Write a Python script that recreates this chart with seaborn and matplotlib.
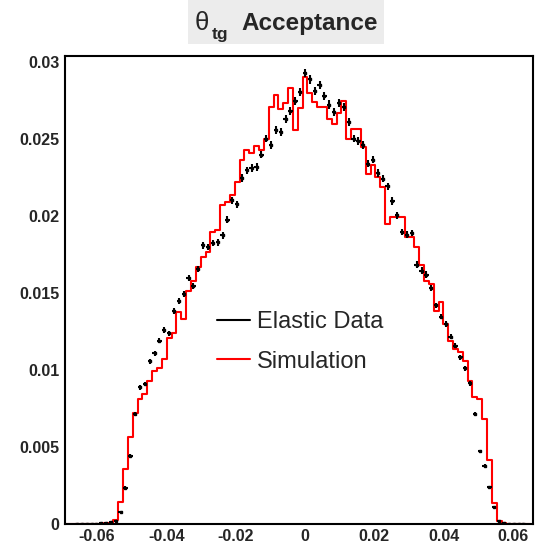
import numpy as np
import pandas as pd
import matplotlib
matplotlib.use("Agg")
import matplotlib.pyplot as plt
import seaborn as sns
from matplotlib.lines import Line2D
from matplotlib.patches import Rectangle
from matplotlib.ticker import MultipleLocator

# ---------------- data ----------------
bin_width = 0.0014
bin_index = list(range(-49, 47))          # bin centres = index * bin_width

# Simulation histogram (units of 1e-3)
sim_vals = [0, 0, 0, 0, 0, 0, 0, 0,
            0.05, 0.05, 0.24, 1.45, 3.56, 5.66, 7.20, 8.11, 8.44, 9.31,
            9.91, 10.13, 10.72, 12.06, 12.38, 13.75, 13.32, 15.12, 15.81, 16.68,
            17.37, 17.66, 18.96, 19.07, 20.69, 20.91, 21.34, 22.21, 23.62, 24.27,
            24.06, 24.53, 24.27, 25.03, 27.09, 27.85, 26.92, 27.31, 28.29, 25.57,
            26.99, 29.00, 28.00, 27.42, 27.05, 27.05, 26.33, 25.96, 26.66, 27.48,
            25.03, 25.68, 25.68, 24.49, 22.76, 23.30, 22.54, 21.89, 19.50, 19.93,
            19.93, 19.93, 18.63, 18.63, 17.98, 16.79, 15.81, 15.60, 13.86, 14.40,
            12.99, 11.91, 11.37, 11.15, 10.61, 9.31, 8.22, 8.11, 6.81, 4.15,
            1.39, 0.20, 0.05,
            0, 0, 0, 0, 0]

# Elastic data points (units of 1e-3)
data_vals = [0, 0,
             0.03, 0.03, 0.03, 0.03, 0.03,
             0.05, 0.08, 0.10, 0.20, 0.80, 2.36, 4.42, 7.14, 8.87, 9.09,
             10.56, 11.08, 11.91, 12.60, 12.38, 13.82, 14.50, 14.92, 15.96, 15.44,
             16.57, 18.09, 17.98, 18.24, 18.30, 18.74, 19.76, 21.02, 20.76, 22.47,
             22.97, 23.12, 23.19, 23.99, 25.03, 24.60, 25.57, 25.46, 26.27, 26.81,
             27.47, 28.07, 29.30, 28.87, 28.13, 28.50, 27.81, 27.24, 26.76, 27.35,
             27.05, 26.11, 25.03, 24.88, 24.60, 23.40, 23.66, 22.79, 22.43, 21.93,
             20.97, 20.04, 18.96, 18.78, 18.90, 16.85, 16.46, 16.20, 15.33, 14.19,
             13.47, 12.99, 12.17, 11.58, 10.82, 10.11, 9.13, 7.14, 4.71, 3.77,
             2.41, 1.11, 0.20, 0.05,
             0.03, 0.03, 0.03, 0.03, 0]

xtick_vals = [-0.06, -0.04, -0.02, 0, 0.02, 0.04, 0.06]
xtick_labels = ["-0.06", "-0.04", "-0.02", "0", "0.02", "0.04", "0.06"]
ytick_vals = [0, 0.005, 0.01, 0.015, 0.02, 0.025, 0.03]
ytick_labels = ["0", "0.005", "0.01", "0.015", "0.02", "0.025", "0.03"]
legend_labels = ["Elastic Data", "Simulation"]

# ---------------- figure ----------------
sns.set_style("white")
plt.rcParams["font.family"] = ["Liberation Sans", "DejaVu Sans"]

W, H = 535, 545
fig = plt.figure(figsize=(W / 100, H / 100), dpi=100)
ax = fig.add_axes([65 / W, 1 - 524 / H, (533 - 65) / W, (524 - 56) / H])

centers = np.array(bin_index) * bin_width
sim = np.array(sim_vals) * 1e-3
dat = np.array(data_vals) * 1e-3
lo_edge = (bin_index[0] - 0.5) * bin_width
hi_edge = (bin_index[-1] + 0.5) * bin_width

df = pd.DataFrame({"theta": centers, "sim": sim, "data": dat})

sns.histplot(data=df, x="theta", weights="sim", binwidth=bin_width,
             binrange=(lo_edge, hi_edge), element="step",
             fill=False, color="red", linewidth=1.5, ax=ax, zorder=2)

mask = df["data"] > 0
ax.errorbar(df.loc[mask, "theta"], df.loc[mask, "data"],
            xerr=0.45 * bin_width, yerr=0.0016 * np.sqrt(df.loc[mask, "data"]),
            fmt="s", ms=1.6, color="black", elinewidth=1.5, capsize=0, zorder=3)

ax.set_xlim(-0.06925, 0.06576)
ax.set_ylim(0, 0.03039)
ax.set_xlabel("")
ax.set_ylabel("")

ax.set_xticks(xtick_vals, xtick_labels, fontweight="bold", fontsize=11.5)
ax.set_yticks(ytick_vals, ytick_labels, fontweight="bold", fontsize=11.5)
ax.xaxis.set_minor_locator(MultipleLocator(0.005))
ax.yaxis.set_minor_locator(MultipleLocator(0.001))
ax.tick_params(axis="both", which="both", direction="in", top=False, right=False,
               width=1.4, color="black")
ax.tick_params(axis="x", which="major", length=8.5, pad=3.5)
ax.tick_params(axis="x", which="minor", length=4.5)
ax.tick_params(axis="y", which="major", length=10, pad=4)
ax.tick_params(axis="y", which="minor", length=5)
for sp in ax.spines.values():
    sp.set_visible(True)
    sp.set_linewidth(1.5)
    sp.set_color("black")

handles = [Line2D([], [], color="black", lw=1.5), Line2D([], [], color="red", lw=1.5)]
ax.legend(handles, legend_labels, loc="upper left",
          bbox_to_anchor=(217 / W, 1 - 311 / H), bbox_transform=fig.transFigure,
          frameon=False, fontsize=17, handlelength=1.4, handletextpad=0.3,
          labelspacing=0.75, borderpad=0, borderaxespad=0)

# title box
fig.patches.append(Rectangle((188 / W, 1 - 44 / H), (384 - 188) / W, 44 / H,
                             transform=fig.transFigure, facecolor="#ececec",
                             edgecolor="none", zorder=0))
fig.text(195 / W, 1 - 30 / H, "θ", fontsize=18.5, ha="left", va="baseline")
fig.text(212 / W, 1 - 39 / H, "tg", fontsize=12.5, fontweight="bold", ha="left", va="baseline")
fig.text(241 / W, 1 - 30 / H, "Acceptance", fontsize=17.5, fontweight="bold",
         ha="left", va="baseline")

fig.savefig("out.png", dpi=100)
